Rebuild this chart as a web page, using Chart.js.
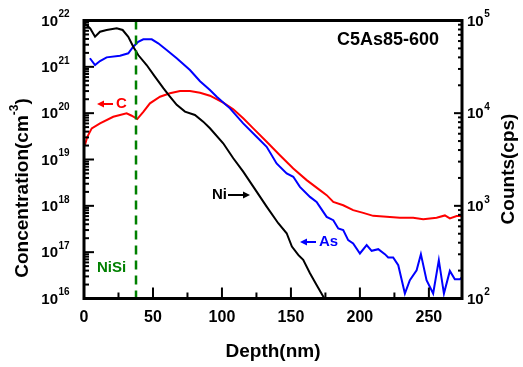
<!DOCTYPE html>
<html>
<head>
<meta charset="utf-8">
<script src="https://cdn.jsdelivr.net/npm/chart.js@4.4.1/dist/chart.umd.min.js"></script>
<style>
  body { margin: 0; background: #fff; }
  #wrap { width: 523px; height: 367px; }
</style>
</head>
<body>
<div id="wrap"><canvas id="chart"></canvas></div>
<script>
// C depth profile (left axis, cm^-3)
const depthC = [0.7, 2.4, 5.6, 11.6, 21.2, 30.9, 34.6, 38.6, 43, 47.8, 55.1, 62.3, 69.6, 76.8, 84.1, 91.3, 100.9, 108.2, 115.4, 122.7, 132.4, 142, 151.7, 161.4, 171, 175.9, 180.7, 187.9, 195.1, 202.4, 209.6, 219.3, 229, 238.6, 245.9, 255.6, 261.6, 265.2, 270.1, 274.4];
const concC = [2.05e19, 3.09e19, 4.7e19, 6.03e19, 8.37e19, 9.9e19, 8.8e19, 7.46e19, 1.07e20, 1.63e20, 2.26e20, 2.68e20, 3.0e20, 3.0e20, 2.76e20, 2.38e20, 1.68e20, 1.21e20, 7.73e19, 4.7e19, 2.41e19, 1.24e19, 6.42e18, 3.59e18, 2.18e18, 1.7e18, 1.22e18, 1.03e18, 8.07e17, 7.06e17, 6.08e17, 5.78e17, 5.51e17, 5.51e17, 5.16e17, 5.51e17, 6.21e17, 5.35e17, 6.0e17, 6.0e17];

// As depth profile (left axis, cm^-3)
const depthAs = [4.3, 8, 11.6, 16.4, 26.1, 32.1, 35.7, 39.3, 43, 49.1, 53.8, 59.9, 67.2, 76.8, 84.1, 91.3, 96.2, 105.8, 115.4, 125.1, 132.4, 139.6, 146.9, 151.7, 156.5, 163.8, 168.6, 171, 175.9, 180.7, 184.3, 187.9, 191.5, 195.1, 200, 204.9, 208.5, 213.3, 218.1, 220.5, 224.1, 227.8, 232.6, 236.2, 241.1, 244.2, 248.3, 253.1, 257.2, 260.9, 265.2, 268.8, 272.5, 274.4];
const concAs = [1.53e21, 1.09e21, 1.33e21, 1.6e21, 1.74e21, 1.96e21, 2.72e21, 3.48e21, 3.93e21, 3.93e21, 3.22e21, 2.31e21, 1.53e21, 8.54e20, 4.9e20, 3.16e20, 2.26e20, 1.27e20, 6.03e19, 3.09e19, 1.88e19, 8.24e18, 5.01e18, 4.23e18, 2.57e18, 1.56e18, 1.22e18, 9.5e17, 5.78e17, 4.91e17, 3.25e17, 2.99e17, 1.82e17, 1.54e17, 9.37e16, 1.42e17, 1.07e17, 1.16e17, 9.06e16, 7.69e16, 7.69e16, 5.24e16, 1.28e16, 2.48e16, 4.08e16, 9.06e16, 2.48e16, 1.28e16, 6.71e16, 1.28e16, 3.94e16, 2.61e16, 2.61e16, 2.93e16];

// Ni signal (right axis, counts/s)
const depthNi = [0.5, 4.5, 8, 11.6, 16.4, 23.7, 28, 32.1, 35.7, 39.3, 45.4, 51.4, 57.5, 62.3, 67.2, 73.2, 80.4, 86.4, 91.3, 100.9, 108.2, 115.4, 122.7, 132.4, 140.8, 146.9, 150.7, 155.3, 158.9, 163.8, 168.6, 173.4, 176];
const countsNi = [93000, 82000, 66800, 75700, 79000, 82400, 79000, 66800, 52100, 42400, 33100, 24800, 18600, 15100, 12300, 10400, 9570, 8100, 6870, 4730, 3260, 2340, 1610, 980, 649, 506, 363, 295, 261, 187, 140, 105, 90];

const xTicks = [0, 50, 100, 150, 200, 250];
const leftExp = [16, 17, 18, 19, 20, 21, 22];
const rightExp = [2, 3, 4, 5];
const nisiDepth = 37.7;

const FONT = '"Liberation Sans", Arial, sans-serif';
const font = size => 'bold ' + size + 'px ' + FONT;

function pts(xs, ys) {
    return xs.map((x, i) => ({ x: x, y: ys[i] }));
}

function arrow(ctx, x1, x2, y, color) {
    const d = x2 > x1 ? 1 : -1;
    ctx.strokeStyle = color;
    ctx.fillStyle = color;
    ctx.lineWidth = 2;
    ctx.beginPath();
    ctx.moveTo(x1, y);
    ctx.lineTo(x2 - d * 4, y);
    ctx.stroke();
    ctx.beginPath();
    ctx.moveTo(x2, y);
    ctx.lineTo(x2 - d * 7, y - 3.5);
    ctx.lineTo(x2 - d * 7, y + 3.5);
    ctx.closePath();
    ctx.fill();
}

function powLabel(ctx, xRight, y, exp) {
    ctx.font = font(15);
    ctx.textBaseline = 'middle';
    ctx.textAlign = 'right';
    ctx.fillText('10', xRight, y + 1);
    ctx.font = font(10);
    ctx.textAlign = 'left';
    ctx.fillText(String(exp), xRight + 0.5, y - 6);
}

const dashLine = {
    id: 'dashLine',
    afterDatasetsDraw(chart) {
        const { ctx, chartArea: a } = chart;
        const px = chart.scales.x.getPixelForValue(nisiDepth);
        ctx.save();
        ctx.strokeStyle = 'rgb(0,128,0)';
        ctx.lineWidth = 2.5;
        ctx.setLineDash([9, 6]);
        ctx.beginPath();
        ctx.moveTo(px, a.top);
        ctx.lineTo(px, a.bottom);
        ctx.stroke();
        ctx.restore();
    }
};

const frame = {
    id: 'frame',
    afterDraw(chart) {
        const { ctx, chartArea: a } = chart;
        const sx = chart.scales.x, sy = chart.scales.y, sr = chart.scales.y1;
        ctx.save();
        ctx.strokeStyle = '#000';
        ctx.fillStyle = '#000';
        ctx.lineWidth = 3;
        ctx.strokeRect(a.left, a.top, a.right - a.left, a.bottom - a.top);

        const tick = (x1, y1, x2, y2) => {
            ctx.beginPath(); ctx.moveTo(x1, y1); ctx.lineTo(x2, y2); ctx.stroke();
        };
        ctx.lineWidth = 2;

        // x ticks (inward)
        xTicks.forEach(v => {
            const px = sx.getPixelForValue(v);
            tick(px, a.bottom, px, a.bottom - 11);
            const mx = sx.getPixelForValue(v + 25);
            if (mx < a.right - 2) tick(mx, a.bottom, mx, a.bottom - 6);
        });

        // left log ticks
        leftExp.forEach(e => {
            const py = sy.getPixelForValue(Math.pow(10, e));
            tick(a.left, py, a.left + 10, py);
            if (e < 22) {
                for (let m = 2; m <= 9; m++) {
                    const my = sy.getPixelForValue(m * Math.pow(10, e));
                    tick(a.left, my, a.left + 5, my);
                }
            }
        });

        // right log ticks
        rightExp.forEach(e => {
            const py = sr.getPixelForValue(Math.pow(10, e));
            tick(a.right, py, a.right - 8, py);
            if (e < 5) {
                for (let m = 2; m <= 9; m++) {
                    const my = sr.getPixelForValue(m * Math.pow(10, e));
                    tick(a.right, my, a.right - 4, my);
                }
            }
        });

        // tick labels
        ctx.font = font(16);
        ctx.textAlign = 'center';
        ctx.textBaseline = 'middle';
        xTicks.forEach(v => ctx.fillText(String(v), sx.getPixelForValue(v), 318));

        leftExp.forEach(e => powLabel(ctx, 58, sy.getPixelForValue(Math.pow(10, e)), e));
        ctx.font = font(15);
        const w10 = ctx.measureText('10').width;
        rightExp.forEach(e => powLabel(ctx, 467 + w10, sr.getPixelForValue(Math.pow(10, e)), e));

        // axis titles
        ctx.font = font(19);
        ctx.textAlign = 'center';
        ctx.fillText('Depth(nm)', (a.left + a.right) / 2, 352);

        ctx.save();
        ctx.translate(23, 188);
        ctx.rotate(-Math.PI / 2);
        ctx.font = font(19);
        const t1 = 'Concentration(cm', t3 = ')';
        const w1 = ctx.measureText(t1).width, w3 = ctx.measureText(t3).width;
        ctx.font = font(12);
        const w2 = ctx.measureText('-3').width;
        let x0 = -(w1 + w2 + w3) / 2;
        ctx.textAlign = 'left';
        ctx.font = font(19);
        ctx.fillText(t1, x0, 0);
        ctx.font = font(12);
        ctx.fillText('-3', x0 + w1, -8);
        ctx.font = font(19);
        ctx.fillText(t3, x0 + w1 + w2, 0);
        ctx.restore();

        ctx.save();
        ctx.translate(509, 169);
        ctx.rotate(-Math.PI / 2);
        ctx.font = font(19);
        ctx.textAlign = 'center';
        ctx.fillText('Counts(cps)', 0, 0);
        ctx.restore();

        // annotations
        ctx.textAlign = 'left';
        ctx.font = font(18);
        ctx.fillStyle = '#000';
        ctx.fillText('C5As85-600', 337, 40);

        arrow(ctx, 113, 97, 104, 'rgb(255,0,0)');
        ctx.fillStyle = 'rgb(255,0,0)';
        ctx.font = font(15);
        ctx.fillText('C', 116, 104);

        ctx.fillStyle = '#000';
        ctx.fillText('Ni', 212, 195);
        arrow(ctx, 228, 250, 195, '#000');

        arrow(ctx, 316, 300, 242, 'rgb(0,0,255)');
        ctx.fillStyle = 'rgb(0,0,255)';
        ctx.fillText('As', 319, 242);

        ctx.fillStyle = 'rgb(0,128,0)';
        ctx.fillText('NiSi', 97, 268);
        ctx.restore();
    }
};

const lineDs = (data, color, axis) => ({
    data: data,
    yAxisID: axis,
    borderColor: color,
    borderWidth: 2,
    pointRadius: 0,
    tension: 0,
    fill: false
});

new Chart(document.getElementById('chart'), {
    type: 'line',
    data: {
        datasets: [
            lineDs(pts(depthNi, countsNi), '#000', 'y1'),
            lineDs(pts(depthAs, concAs), 'rgb(0,0,255)', 'y'),
            lineDs(pts(depthC, concC), 'rgb(255,0,0)', 'y')
        ]
    },
    options: {
        responsive: true,
        maintainAspectRatio: false,
        animation: false,
        layout: { padding: { top: 20.5, left: 0, right: 0, bottom: 0 } },
        plugins: { legend: { display: false }, tooltip: { enabled: false } },
        scales: {
            x: {
                type: 'linear', min: 0, max: 274,
                ticks: { display: false }, grid: { display: false }, border: { display: false },
                afterFit: s => { s.height = 68.5; }
            },
            y: {
                type: 'logarithmic', position: 'left', min: 1e16, max: 1e22,
                ticks: { display: false }, grid: { display: false }, border: { display: false },
                afterFit: s => { s.width = 84; }
            },
            y1: {
                type: 'logarithmic', position: 'right', min: 1e2, max: 1e5,
                ticks: { display: false }, grid: { display: false }, border: { display: false },
                afterFit: s => { s.width = 61; }
            }
        }
    },
    plugins: [dashLine, frame]
});
</script>
</body>
</html>
